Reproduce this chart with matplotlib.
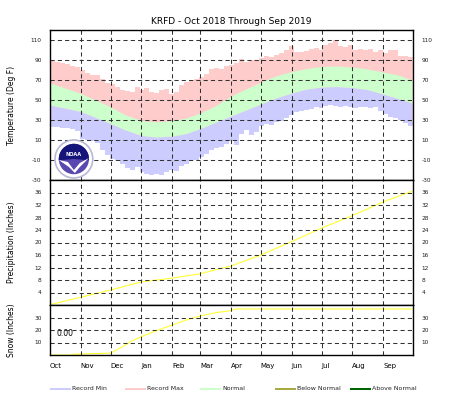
import numpy as np
import matplotlib
matplotlib.use("Agg")
import matplotlib.pyplot as plt
from matplotlib.patches import Circle, Wedge, Polygon, Rectangle

plt.rcParams["axes.unicode_minus"] = False

# ---- data ----
station = "KRFD"
months = ["Oct", "Nov", "Dec", "Jan", "Feb", "Mar", "Apr", "May", "Jun", "Jul", "Aug", "Sep"]
month_start = [0, 31, 61, 92, 123, 151, 182, 212, 243, 273, 304, 335]

# record max / min, one value per 5 days starting Oct 1
rec_max = [89, 88, 87, 86, 84, 83, 80, 77, 75, 75,
           71, 67, 66, 63, 60, 59, 58, 63, 60, 62,
           58, 57, 60, 61, 56, 58, 65, 68, 70, 71,
           73, 76, 81, 82, 81, 84, 85, 87, 91, 88,
           90, 90, 92, 94, 93, 95, 97, 100, 104, 98,
           98, 99, 101, 102, 100, 105, 107, 110, 104, 103,
           105, 100, 101, 100, 101, 98, 100, 97, 100, 100,
           94, 94, 93]
rec_min = [23, 23, 22, 22, 21, 19, 11, 10, 9, 7,
           0, -5, -9, -11, -14, -18, -20, -17, -22, -24,
           -25, -24, -25, -22, -20, -21, -16, -14, -10, -10,
           -7, -4, 0, 2, 3, 6, 9, 5, 16, 20,
           15, 18, 24, 26, 25, 28, 29, 32, 35, 38,
           39, 40, 41, 43, 42, 44, 45, 44, 43, 44,
           43, 42, 43, 43, 42, 43, 39, 36, 33, 32,
           30, 27, 24]

# normal high / low (day of season)
norm_days = [0, 15, 31, 46, 61, 76, 92, 107, 123, 137, 151, 166, 182,
             197, 212, 227, 243, 258, 273, 288, 304, 319, 335, 350, 364]
norm_high = [67, 62, 56.5, 50, 43, 35, 29.5, 28, 29.5, 32, 37, 44, 54,
             61, 68, 74, 78.5, 81.5, 83.5, 84, 83, 81, 78, 75, 70]
norm_low = [45, 42, 38.5, 32.5, 26.5, 20, 14.5, 13, 14, 16.5, 21.5, 27.5, 34,
            40, 46, 52, 57, 61, 63, 63.5, 62.5, 60.5, 56, 51.5, 47]

# normal accumulated precipitation (inches)
pcp_days = [0, 31, 61, 92, 123, 151, 182, 212, 243, 273, 304, 335, 364]
pcp_norm = [0.1, 2.5, 4.8, 7.4, 8.6, 10.0, 12.5, 16.0, 20.3, 24.6, 28.6, 33.0, 36.4]

# normal accumulated snowfall (inches)
snow_days = [0, 22, 23, 61, 73, 83, 92, 107, 123, 137, 151, 167, 182, 186, 364]
snow_norm = [0, 0, 0.6, 1.5, 6.7, 11.5, 14.7, 19.5, 24.0, 28.0, 31.2, 33.9, 35.5, 36.8, 36.8]
snow_total = "0.00"

c_min = "#ccccff"
c_max = "#ffcccc"
c_norm = "#ccffcc"
c_below = "#aaaa44"
c_above = "#006600"
c_line = "#ffff33"
grid_kw = dict(color="#333333", linestyle=(0, (4, 3)), linewidth=0.75, zorder=6)

W, H = 463, 395
fig = plt.figure(figsize=(W / 100, H / 100), dpi=100)


def px_axes(x0, y0, x1, y1):
    return fig.add_axes([x0 / W, 1 - y1 / H, (x1 - x0) / W, (y1 - y0) / H])


ax_t = px_axes(50, 30, 413, 180)
ax_p = px_axes(50, 180, 413, 305)
ax_s = px_axes(50, 305, 413, 355)

days = np.arange(len(rec_max)) * 5

# temperature panel
ax_t.bar(days, np.array(rec_max) - np.array(rec_min), bottom=rec_min, width=5,
         align="edge", color=c_max, linewidth=0, zorder=1)
ax_t.fill_between(norm_days, -30, norm_low, color=c_min, linewidth=0, zorder=2)
ax_t.bar(days, np.array(rec_min) + 30, bottom=-30, width=5, align="edge",
         color="white", linewidth=0, zorder=3)
ax_t.fill_between(norm_days, norm_low, norm_high, color=c_norm, linewidth=0, zorder=4)
ax_t.set_ylim(-30, 120)
ax_t.set_yticks([-30, -10, 10, 30, 50, 70, 90, 110])
for v in [-10, 10, 30, 50, 70, 90, 110]:
    ax_t.axhline(v, **grid_kw)
ax_t.set_ylabel("Temperature (Deg F)", fontsize=5.5, labelpad=14)

# NOAA logo
cx, cy, r = 24, -9, 19
ax_t.add_patch(Circle((cx, cy), r, facecolor="white", edgecolor="#b8b8d8", lw=1.2, zorder=7))
ax_t.add_patch(Circle((cx, cy), r * 0.8, facecolor="#5a48b0", edgecolor="none", zorder=8))
ax_t.add_patch(Wedge((cx, cy), r * 0.8, -5, 185, facecolor="#14147a", edgecolor="none", zorder=8))
bird = [(cx - r * 0.8, cy - 1), (cx - 6, cy - 3), (cx, cy - 11), (cx + 6, cy - 4),
        (cx + r * 0.8, cy + 1), (cx + 6, cy - 8), (cx + 1, cy - 14), (cx - 5, cy - 8)]
ax_t.add_patch(Polygon(bird, closed=True, facecolor="white", edgecolor="none", zorder=9))
ax_t.text(cx, cy + 4, "NOAA", color="white", fontsize=3.6, fontweight="bold",
          ha="center", va="center", zorder=10)

# precipitation panel
ax_p.plot(pcp_days, pcp_norm, color=c_line, lw=0.8, zorder=3)
ax_p.set_ylim(0, 40)
ax_p.set_yticks([4, 8, 12, 16, 20, 24, 28, 32, 36])
for v in ax_p.get_yticks():
    ax_p.axhline(v, **grid_kw)
ax_p.set_ylabel("Precipitation (Inches)", fontsize=5.5, labelpad=14)

# snow panel
ax_s.plot(snow_days, snow_norm, color=c_line, lw=0.8, zorder=3)
ax_s.set_ylim(0, 40)
ax_s.set_yticks([10, 20, 30])
for v in [10, 20, 30]:
    ax_s.axhline(v, **grid_kw)
ax_s.text(7, 17, snow_total, fontsize=5.5, ha="left", va="center")
ax_s.set_ylabel("Snow (Inches)", fontsize=5.5, labelpad=14)

for ax in (ax_t, ax_p, ax_s):
    ax.set_xlim(0, 365)
    for d in month_start[1:]:
        ax.axvline(d, **grid_kw)
    ax.tick_params(axis="y", length=0, labelsize=4.2, pad=6, labelright=True)
    for lab in ax.get_yticklabels():
        lab.set_color("#222222")
    for sp in ax.spines.values():
        sp.set_linewidth(1.0)
        sp.set_zorder(11)
    ax.set_xticks(month_start)
    ax.tick_params(axis="x", length=0, labelbottom=False)
    ax.yaxis.set_label_coords(-0.095, 0.5)

ax_s.set_xticks(month_start)
ax_s.set_xticklabels(months, ha="left")
ax_s.tick_params(axis="x", labelbottom=True, labelsize=5, pad=6)

fig.text(231 / W, 1 - 22 / H, station + " - Oct 2018 Through Sep 2019",
         fontsize=6.5, ha="center", va="center")

# legend
leg_labels = ["Record Min", "Record Max", "Normal", "Below Normal", "Above Normal"]
leg_colors = [c_min, c_max, c_norm, c_below, c_above]
for i, (lab, col) in enumerate(zip(leg_labels, leg_colors)):
    x0 = 50 + 75 * i
    fig.add_artist(Rectangle((x0 / W, 1 - 390 / H), 21 / W, 2.5 / H,
                             transform=fig.transFigure, facecolor=col, edgecolor="none"))
    fig.text((x0 + 22) / W, 1 - 388 / H, lab, fontsize=4.5, ha="left", va="center",
             color="#222222")

fig.savefig("out.png", dpi=100)
